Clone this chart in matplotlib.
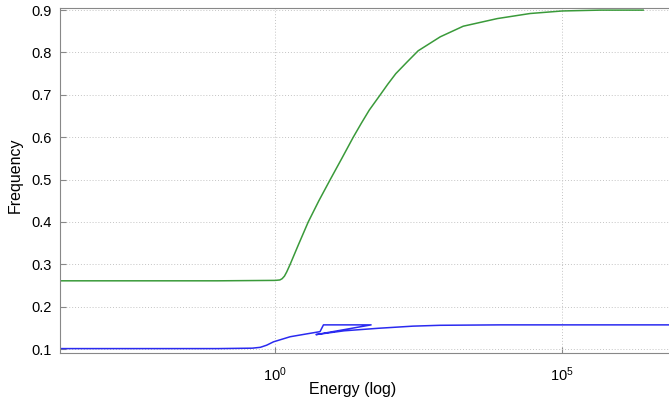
import numpy as np
import matplotlib
matplotlib.use('Agg')
import matplotlib.pyplot as plt

# green curve: log10(energy) and frequency
green_logx = [-4.0, -1.0, 0.0, 0.08, 0.12, 0.16, 0.20, 0.26, 0.40, 0.575, 0.76,
              0.958, 1.16, 1.359, 1.50, 1.638, 1.829, 1.96, 2.10, 2.30, 2.49,
              2.875, 3.275, 3.868, 4.44, 5.0, 5.66, 6.41]
green_freq = [0.261, 0.261, 0.262, 0.263, 0.266, 0.272, 0.282, 0.300, 0.345, 0.400, 0.450,
              0.500, 0.550, 0.600, 0.633, 0.664, 0.700, 0.725, 0.750, 0.778, 0.804,
              0.837, 0.862, 0.880, 0.892, 0.898, 0.900, 0.900]

# blue curve (has a small zig-zag around 10^1)
blue_logx = [-4.0, -1.0, -0.40, -0.26, -0.15, -0.03, 0.26, 0.56, 0.78, 0.84, 1.67,
             0.71, 1.20, 1.80, 2.40, 2.87, 3.92, 5.0, 7.0]
blue_freq = [0.101, 0.101, 0.102, 0.104, 0.109, 0.117, 0.129, 0.136, 0.141, 0.157, 0.157,
             0.134, 0.143, 0.149, 0.154, 0.156, 0.157, 0.157, 0.157]

yticks = [0.1, 0.2, 0.3, 0.4, 0.5, 0.6, 0.7, 0.8, 0.9]
xticks = [1e0, 1e5]


def plot_curves():

    plt.rcParams['font.family'] = ['Liberation Sans', 'DejaVu Sans']

    fig = plt.figure(figsize=(6.69, 4.08), dpi=100)
    ax = fig.add_axes([60 / 669, 1 - 353 / 408, 1 - 60 / 669, (353 - 8) / 408])

    ax.plot(10 ** np.array(green_logx), green_freq, color='#3a9a3a', lw=1.1)
    ax.plot(10 ** np.array(blue_logx), blue_freq, color='#2a2af0', lw=1.1)

    ax.set_xscale('log')
    ax.set_xlim(10 ** -3.75, 10 ** 6.86)
    ax.set_ylim(0.0906, 0.905)
    ax.set_xticks(xticks)
    ax.xaxis.set_minor_locator(matplotlib.ticker.NullLocator())
    ax.set_yticks(yticks)
    ax.set_yticklabels(['%.1f' % v for v in yticks])

    ax.grid(True, color='#c4c4c4', linestyle=(0, (1, 2)), linewidth=0.7)
    ax.tick_params(direction='in', length=4, color='#888888', labelsize=10.5)
    ax.tick_params(axis='x', pad=9)
    ax.tick_params(axis='y', pad=6)
    for side in ['left', 'bottom', 'top']:
        ax.spines[side].set_color('#888888')
    ax.spines['right'].set_visible(False)

    ax.set_xlabel('Energy (log)', fontsize=11.5)
    ax.set_ylabel('Frequency', fontsize=11.5)
    ax.xaxis.set_label_coords(0.481, -0.085)
    ax.yaxis.set_label_coords(-0.061, 0.515)

    fig.savefig('out.png', dpi=100)


def main():

    plot_curves()


if __name__ == '__main__':
    main()
